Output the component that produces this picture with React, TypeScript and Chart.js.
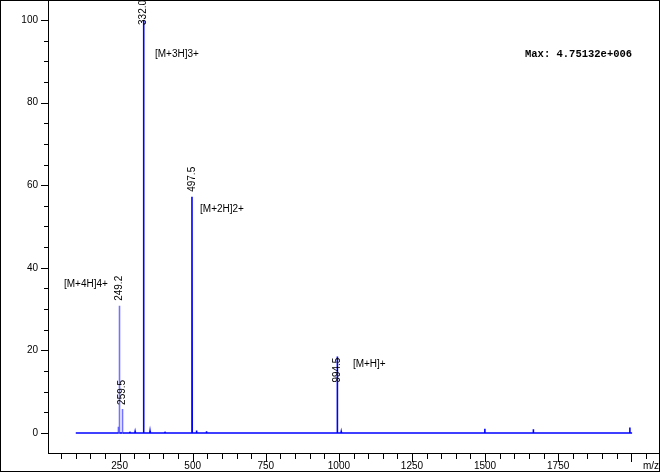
import React, { useEffect, useRef } from "react";
import { Chart, registerables } from "chart.js";

Chart.register(...registerables);

// ---- data ----
const traceStartMz = 100;
const traceEndMz = 2003;
const peakMz = [245.5, 249.2, 259.5, 285, 303, 332.0, 354, 405, 497.5, 513, 547, 994.5, 1008, 1499, 1665, 1995];
const peakIntensity = [1.5, 30.8, 5.8, 0.3, 0.3, 100, 0.4, 0.3, 57.2, 0.6, 0.4, 18.5, 0.3, 1.0, 0.9, 1.3];

const labelledMz = [249.2, 259.5, 332.0, 497.5, 994.5];
const labelledText = ["249.2", "259.5", "332.0", "497.5", "994.5"];
const labelBaseIntensity = [32.0, 6.8, 98.8, 58.4, 12.2];

const ionText = ["[M+4H]4+", "[M+3H]3+", "[M+2H]2+", "[M+H]+"];
const ionMz = [59.7, 371, 525, 1048];
const ionIntensity = [36.1, 91.6, 54.1, 16.7];

const xTickLabels = [250, 500, 750, 1000, 1250, 1500, 1750];
const yTickLabels = [0, 20, 40, 60, 80, 100];
const maxText = "Max: 4.75132e+006";
const xAxisTitle = "m/z";

const FONT = '"Liberation Sans", Arial, sans-serif';

function buildTrace() {
  const pts: { x: number; y: number }[] = [{ x: traceStartMz, y: 0 }];
  const hw = 0.8;
  peakMz.forEach((mz, i) => {
    pts.push({ x: mz - hw, y: 0 });
    pts.push({ x: mz, y: peakIntensity[i] });
    pts.push({ x: mz + hw, y: 0 });
  });
  pts.push({ x: traceEndMz, y: 0 });
  return pts;
}

const framePlugin = {
  id: "framePlugin",
  afterDraw(chart: any) {
    const ctx = chart.ctx as CanvasRenderingContext2D;
    const xs = chart.scales.x;
    const ys = chart.scales.y;
    const { left, right, top, bottom } = chart.chartArea;
    ctx.save();
    ctx.strokeStyle = "#000";
    ctx.lineWidth = 1;
    // axes
    ctx.beginPath();
    ctx.moveTo(left + 0.5, top);
    ctx.lineTo(left + 0.5, bottom + 1);
    ctx.moveTo(left, bottom + 0.5);
    ctx.lineTo(right + 1, bottom + 0.5);
    // x ticks
    xs.ticks.forEach((t: any) => {
      const px = Math.round(xs.getPixelForValue(t.value)) + 0.5;
      const len = t.value % 250 === 0 ? 8 : 5;
      ctx.moveTo(px, bottom + 1);
      ctx.lineTo(px, bottom + 1 + len);
    });
    // y ticks
    ys.ticks.forEach((t: any) => {
      const py = Math.round(ys.getPixelForValue(t.value)) + 0.5;
      const len = t.value % 20 === 0 ? 7 : 4;
      ctx.moveTo(left - len, py);
      ctx.lineTo(left, py);
    });
    ctx.stroke();
    // outer frame
    ctx.strokeRect(0.5, 0.5, chart.width - 1, chart.height - 2);

    // peak labels
    ctx.fillStyle = "#000";
    ctx.font = `10px ${FONT}`;
    labelledMz.forEach((mz, i) => {
      const px = xs.getPixelForValue(mz);
      const py = ys.getPixelForValue(labelBaseIntensity[i]);
      ctx.save();
      ctx.translate(px, py);
      ctx.rotate(-Math.PI / 2);
      ctx.textAlign = "left";
      ctx.textBaseline = "middle";
      ctx.fillText(labelledText[i], 0, 0);
      ctx.restore();
    });
    // ion labels
    ctx.textAlign = "left";
    ctx.textBaseline = "middle";
    ionText.forEach((txt, i) => {
      ctx.fillText(txt, xs.getPixelForValue(ionMz[i]), ys.getPixelForValue(ionIntensity[i]));
    });
    // axis title
    ctx.textBaseline = "alphabetic";
    ctx.fillText(xAxisTitle, right - 16, bottom + 16);
    // max text
    ctx.font = `bold 10.5px "Liberation Mono", "Courier New", monospace`;
    ctx.fillText(maxText, right - 134, top + 57);
    ctx.restore();
  },
};

export default function App() {
  const ref = useRef<HTMLCanvasElement | null>(null);
  useEffect(() => {
    document.body.style.margin = "0";
    const canvas = ref.current!;
    const chart = new Chart(canvas, {
      type: "line",
      data: {
        datasets: [
          {
            data: buildTrace(),
            borderColor: "#0000ff",
            borderWidth: 1.6,
            pointRadius: 0,
            tension: 0,
            fill: false,
            segment: {
              borderColor: (c: any) => {
                const x = c.p0.parsed.x;
                const vertical = c.p0.parsed.y !== 0 || c.p1.parsed.y !== 0;
                return vertical && x > 240 && x < 265 ? "rgba(0,0,255,0.55)" : "#0000ff";
              },
            },
          },
        ],
      },
      options: {
        responsive: false,
        animation: false,
        devicePixelRatio: 1,
        layout: { padding: { left: 0, right: 1, top: 0, bottom: 2 } },
        plugins: { legend: { display: false }, tooltip: { enabled: false } },
        scales: {
          x: {
            type: "linear",
            min: 5,
            max: 2095,
            grid: { display: false, drawTicks: false },
            border: { display: false },
            afterFit: (s: any) => {
              s.height = 18;
              s.paddingLeft = 0;
              s.paddingRight = 0;
              s.paddingTop = 0;
              s.paddingBottom = 0;
            },
            ticks: {
              stepSize: 50,
              includeBounds: false,
              autoSkip: false,
              maxRotation: 0,
              padding: 7,
              color: "#000",
              font: { family: FONT, size: 10 },
              callback: (v: any) => (xTickLabels.includes(Number(v)) ? String(v) : ""),
            },
          },
          y: {
            type: "linear",
            min: -4.85,
            max: 104.85,
            grid: { display: false, drawTicks: false },
            border: { display: false },
            afterFit: (s: any) => {
              s.width = 48;
              s.paddingLeft = 0;
              s.paddingRight = 0;
              s.paddingTop = 0;
              s.paddingBottom = 0;
            },
            ticks: {
              stepSize: 5,
              includeBounds: false,
              autoSkip: false,
              padding: 10,
              color: "#000",
              font: { family: FONT, size: 10 },
              callback: (v: any) => (yTickLabels.includes(Number(v)) ? String(v) : ""),
            },
          },
        },
      },
      plugins: [framePlugin],
    } as any);
    return () => chart.destroy();
  }, []);
  return (
    <canvas
      ref={ref}
      width={660}
      height={473}
      style={{ display: "block", width: 660, height: 473 }}
    />
  );
}
